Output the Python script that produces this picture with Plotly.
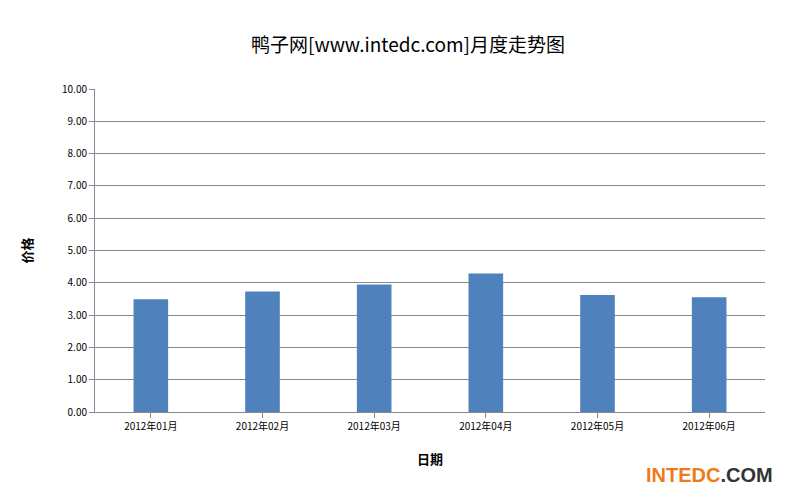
import plotly.graph_objects as go

categories = ["2012年01月", "2012年02月", "2012年03月", "2012年04月", "2012年05月", "2012年06月"]
prices = [3.49, 3.73, 3.95, 4.29, 3.62, 3.55]
tick_vals = [i for i in range(11)]
tick_text = [f"{v:.2f}" for v in tick_vals]

fig = go.Figure(go.Bar(x=categories, y=prices, marker=dict(color="#4F81BD", line=dict(width=0))))
fig.update_layout(
    width=800, height=495, paper_bgcolor="white", plot_bgcolor="white",
    margin=dict(l=87, r=43, t=81, b=91),
    bargap=0.69, showlegend=False,
    font=dict(family="Noto Sans CJK SC", color="#000"),
    title=dict(text="鸭子网[www.intedc.com]月度走势图", x=0.5, xanchor="center", y=0.925, yanchor="middle",
               font=dict(size=19, color="#000")),
)
fig.update_xaxes(showline=True, linecolor="#888", ticks="outside", ticklen=5, tickcolor="#888",
                 tickfont=dict(size=10), title=dict(text="<b>日期</b>", font=dict(size=13), standoff=22))
fig.update_yaxes(range=[0, 10], tickvals=tick_vals, ticktext=tick_text, showgrid=True, gridcolor="#888",
                 showline=True, linecolor="#888", ticks="outside", ticklen=5, tickcolor="#888",
                 tickfont=dict(size=10), zeroline=False,
                 title=dict(text="<b>价格</b>", font=dict(size=13), standoff=26))
fig.add_annotation(text="<b>INTEDC<span style='color:#333'>.COM</span></b>", xref="paper", yref="paper",
                   x=1.015, y=-0.235, xanchor="right", yanchor="bottom", showarrow=False,
                   font=dict(size=20, color="#F07A1A", family="Liberation Sans"))
fig.write_html("out.html")
